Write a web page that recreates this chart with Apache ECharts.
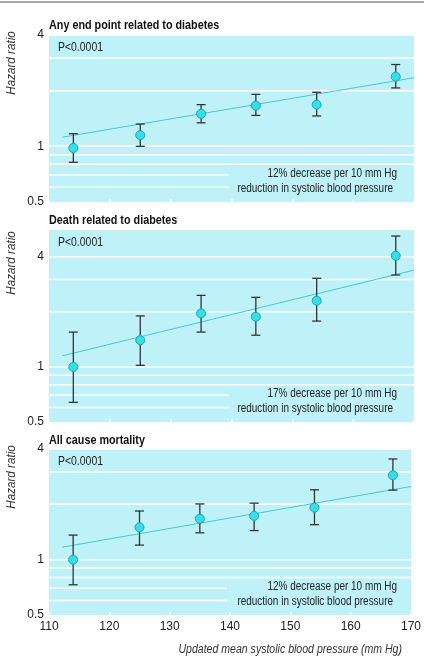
<!DOCTYPE html>
<html>
<head>
<meta charset="utf-8">
<script src="https://cdn.jsdelivr.net/npm/echarts@6/dist/echarts.min.js"></script>
<style>
  html, body { margin: 0; padding: 0; background: #fff; }
  #chart { width: 424px; height: 658px; }
</style>
</head>
<body>
<div id="chart"></div>
<script>
// systolic blood pressure groups (mm Hg)
const bp = [114, 125, 135, 144, 154, 167]

// any end point related to diabetes
const anyHr = [0.98, 1.15, 1.50, 1.66, 1.68, 2.38]
const anyLo = [0.82, 1.00, 1.34, 1.47, 1.46, 2.07]
const anyHi = [1.17, 1.32, 1.68, 1.91, 1.96, 2.77]

// death related to diabetes
const deathHr = [1.00, 1.40, 1.96, 1.88, 2.30, 4.05]
const deathLo = [0.64, 1.02, 1.55, 1.49, 1.78, 3.18]
const deathHi = [1.55, 1.90, 2.46, 2.40, 3.05, 5.19]

// all cause mortality
const allHr = [1.00, 1.50, 1.67, 1.73, 1.92, 2.88]
const allLo = [0.73, 1.20, 1.40, 1.44, 1.55, 2.39]
const allHi = [1.36, 1.84, 2.01, 2.03, 2.40, 3.53]

// fitted lines (ends)
const fitX = [112.2, 170]
const anyFit = [1.12, 2.35]
const deathFit = [1.15, 3.38]
const allFit = [1.17, 2.50]

// reference lines of the log scale
const gridFull = [0.8, 0.9, 1, 2, 3, 4]
const gridShort = [0.6, 0.7]
const gridShortEnd = 139.5

const titles = ['Any end point related to diabetes', 'Death related to diabetes', 'All cause mortality']
const notes = [
  ['12% decrease per 10 mm Hg', 'reduction in systolic blood pressure'],
  ['17% decrease per 10 mm Hg', 'reduction in systolic blood pressure'],
  ['12% decrease per 10 mm Hg', 'reduction in systolic blood pressure'],
]
const yLabels = [0.5, 1, 4]
const yMax = [4, 5.6, 4]

const FONT = "'Liberation Sans', Arial, sans-serif"
const BG = '#bff2f8'
const TEXT = '#222'
// the original type is a condensed face, squeeze the free text to match
const NARROW = 0.83

const panels = [
  { top: 35, height: 167 },
  { top: 230, height: 192 },
  { top: 449, height: 166 },
]
const sets = [
  [anyHr, anyLo, anyHi, anyFit],
  [deathHr, deathLo, deathHi, deathFit],
  [allHr, allLo, allHi, allFit],
]

const chart = echarts.init(document.getElementById('chart'), null, { renderer: 'canvas' })

const grid = panels.map(p => ({
  left: 49, right: 10, top: p.top, height: p.height,
  show: true, backgroundColor: BG, borderWidth: 0,
}))

const xAxis = panels.map((p, i) => ({
  type: 'value', gridIndex: i, min: 110, max: 170, interval: 10,
  axisLine: { show: false },
  axisTick: { show: true, inside: true, length: 3, lineStyle: { color: '#fff', width: 1.5 } },
  splitLine: { show: false },
  axisLabel: { show: i === 2, margin: 6, color: TEXT, fontFamily: FONT, fontSize: 12 },
}))

const yAxis = panels.map((p, i) => ({
  type: 'log', logBase: 2, gridIndex: i, min: 0.5, max: yMax[i],
  axisLine: { show: false }, axisTick: { show: false }, splitLine: { show: false },
  axisLabel: {
    margin: 5, color: TEXT, fontFamily: FONT, fontSize: 12,
    formatter: v => {
      const hit = yLabels.find(l => Math.abs(l - v) < 1e-6)
      return hit === undefined ? '' : String(hit)
    },
  },
}))

const series = []
panels.forEach((p, i) => {
  const [hr, lo, hi, fit] = sets[i]
  gridFull.forEach(v => {
    series.push({
      type: 'line', xAxisIndex: i, yAxisIndex: i, z: 1, silent: true, showSymbol: false,
      data: [[110, v], [170, v]], lineStyle: { color: '#fff', width: 1.5 },
    })
  })
  gridShort.forEach(v => {
    series.push({
      type: 'line', xAxisIndex: i, yAxisIndex: i, z: 1, silent: true, showSymbol: false,
      data: [[110, v], [gridShortEnd, v]], lineStyle: { color: '#fff', width: 1.5 },
    })
  })
  // fitted line
  series.push({
    type: 'line', xAxisIndex: i, yAxisIndex: i, z: 2, silent: true, showSymbol: false,
    data: fitX.map((x, k) => [x, fit[k]]), lineStyle: { color: '#45c8d6', width: 1 },
  })
  // error bars
  series.push({
    type: 'custom', xAxisIndex: i, yAxisIndex: i, z: 3, silent: true,
    data: bp.map((x, k) => [x, lo[k], hi[k]]),
    renderItem: (params, api) => {
      const a = api.coord([api.value(0), api.value(1)])
      const b = api.coord([api.value(0), api.value(2)])
      const w = 4.5
      const st = { stroke: '#333', lineWidth: 1.3 }
      return {
        type: 'group',
        children: [
          { type: 'line', shape: { x1: a[0], y1: a[1], x2: b[0], y2: b[1] }, style: st },
          { type: 'line', shape: { x1: a[0] - w, y1: a[1], x2: a[0] + w, y2: a[1] }, style: st },
          { type: 'line', shape: { x1: b[0] - w, y1: b[1], x2: b[0] + w, y2: b[1] }, style: st },
        ],
      }
    },
  })
  // point estimates
  series.push({
    type: 'scatter', xAxisIndex: i, yAxisIndex: i, z: 4, silent: true,
    symbol: 'circle', symbolSize: 9,
    data: bp.map((x, k) => [x, hr[k]]),
    itemStyle: { color: '#34dfe8', borderColor: '#23a3b0', borderWidth: 1, opacity: 1 },
  })
})

const graphic = [
  { type: 'line', shape: { x1: 0, y1: 2, x2: 424, y2: 2 }, style: { stroke: '#8a8a8a', lineWidth: 1.5 } },
  {
    type: 'text', x: 402, y: 650, scaleX: 0.88,
    style: { text: 'Updated mean systolic blood pressure (mm Hg)', align: 'right', verticalAlign: 'middle',
      font: 'italic 12px ' + FONT, fill: '#333' },
  },
]
const titleY = [25, 220, 440]
const ylabY = [63, 263, 477]
panels.forEach((p, i) => {
  const bottom = p.top + p.height
  graphic.push({
    type: 'text', x: 49, y: titleY[i], scaleX: NARROW,
    style: { text: titles[i], verticalAlign: 'middle', font: 'bold 13px ' + FONT, fill: '#111' },
  })
  graphic.push({
    type: 'text', x: 12, y: ylabY[i], rotation: Math.PI / 2, scaleX: 0.97,
    style: { text: 'Hazard ratio', align: 'center', verticalAlign: 'middle', font: 'italic 12px ' + FONT, fill: '#333' },
  })
  graphic.push({
    type: 'text', x: 58, y: p.top + 13, z: 10, scaleX: 0.87,
    style: { text: 'P<0.0001', verticalAlign: 'middle', font: '12px ' + FONT, fill: TEXT },
  })
  graphic.push({
    type: 'text', x: 397, y: bottom - 28, z: 10, scaleX: NARROW,
    style: { text: notes[i][0], align: 'right', verticalAlign: 'middle', font: '12px ' + FONT, fill: TEXT },
  })
  graphic.push({
    type: 'text', x: 393, y: bottom - 13.5, z: 10, scaleX: NARROW,
    style: { text: notes[i][1], align: 'right', verticalAlign: 'middle', font: '12px ' + FONT, fill: TEXT },
  })
})

chart.setOption({
  animation: false,
  backgroundColor: '#fff',
  grid, xAxis, yAxis, series, graphic,
})
</script>
</body>
</html>
